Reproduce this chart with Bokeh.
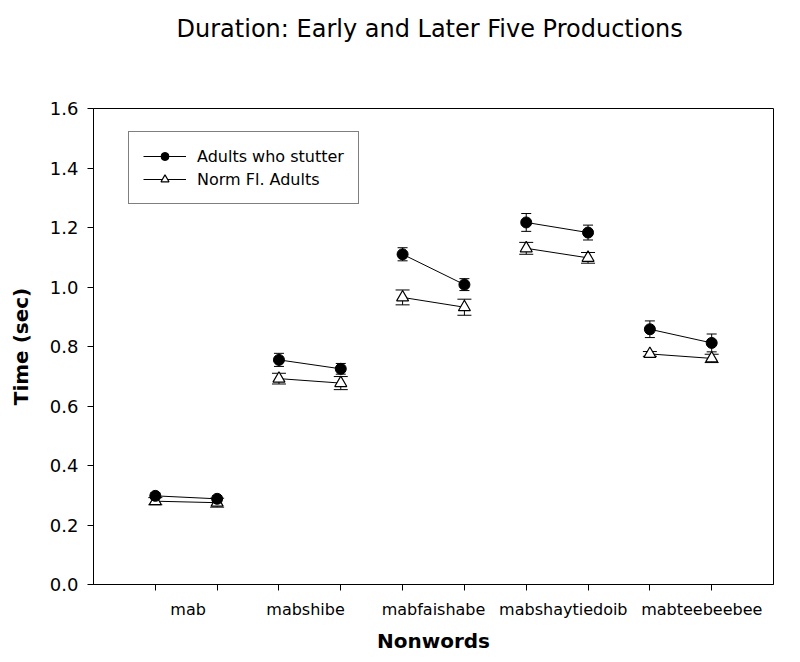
from bokeh.plotting import figure
from bokeh.models import (FixedTicker, Whisker, TeeHead, ColumnDataSource, Legend,
                          LegendItem, Range1d, LinearAxis)
from bokeh.embed import file_html
from bokeh.resources import INLINE

# ---- data ----
title_text = "Duration:  Early and Later Five Productions"
words = ["mab", "mabshibe", "mabfaishabe", "mabshaytiedoib", "mabteebeebee"]
stages = ["Early", "Later"]
aws = [0.298, 0.288, 0.755, 0.725, 1.110, 1.008, 1.217, 1.183, 0.858, 0.812]
aws_err = [0.010, 0.010, 0.022, 0.018, 0.022, 0.020, 0.030, 0.025, 0.028, 0.030]
nfa = [0.280, 0.275, 0.692, 0.677, 0.965, 0.932, 1.130, 1.098, 0.775, 0.760]
nfa_err = [0.012, 0.015, 0.018, 0.022, 0.025, 0.027, 0.020, 0.018, 0.008, 0.014]
y_ticks = [0.0, 0.2, 0.4, 0.6, 0.8, 1.0, 1.2, 1.4, 1.6]

# ---- layout constants ----
FONT = "DejaVu Sans"
W, H = 800, 662
BL, BR, BT, BB = 93, 27, 108, 78
FRAME_H = H - BT - BB
LABEL_NUDGE = [0.03, -0.07, 0.0, 0.1, 0.34]   # category label placement tweak

n = len(aws)
xpos = [i + 1 for i in range(n)]
word_pos = [2 * i + 1.5 + LABEL_NUDGE[i] for i in range(len(words))]

p = figure(width=W, height=H, output_backend="svg", toolbar_location=None,
           x_range=Range1d(0, n + 1), y_range=Range1d(0, 1.6),
           min_border_left=BL, min_border_right=BR, min_border_top=BT,
           min_border_bottom=BB)
p.background_fill_color = "white"
p.border_fill_color = "white"
p.outline_line_color = "black"
p.outline_line_width = 1
p.grid.visible = False

xa = p.below[0]
ya = p.left[0]

# top axis, used only to carry the chart title well above the frame
top_ax = LinearAxis(ticker=FixedTicker(ticks=[0.5]), major_label_overrides={0.5: ""},
                    major_label_text_font_size="1px", major_label_standoff=0,
                    major_tick_out=0, major_tick_in=0, minor_tick_out=0,
                    minor_tick_in=0, axis_line_color=None,
                    major_tick_line_color=None, minor_tick_line_color=None,
                    axis_label=title_text, axis_label_text_font=FONT,
                    axis_label_text_font_size="24px",
                    axis_label_text_font_style="normal",
                    axis_label_text_color="black", axis_label_standoff=66)
p.add_layout(top_ax, "above")

# y axis
ya.ticker = FixedTicker(ticks=y_ticks)
ya.major_label_overrides = {t: f"{t:.1f}" for t in y_ticks}
ya.major_tick_out = 6
ya.major_tick_in = 0
ya.minor_tick_out = 0
ya.minor_tick_in = 0
ya.major_label_text_font = FONT
ya.major_label_text_font_size = "18px"
ya.major_label_text_color = "black"
ya.major_label_standoff = 9
ya.axis_label = "Time (sec)"
ya.axis_label_text_font = FONT
ya.axis_label_text_font_size = "20px"
ya.axis_label_text_font_style = "bold"
ya.axis_label_text_color = "black"
ya.axis_label_standoff = 14
ya.axis_line_color = "black"
ya.major_tick_line_color = "black"

# x axis
xa.ticker = FixedTicker(ticks=word_pos, minor_ticks=xpos)
xa.major_label_overrides = {w: words[i] for i, w in enumerate(word_pos)}
xa.major_tick_out = 0
xa.major_tick_in = 0
xa.minor_tick_out = 6
xa.minor_tick_in = 0
xa.minor_tick_line_color = "black"
xa.major_label_text_font = FONT
xa.major_label_text_font_size = "16px"
xa.major_label_text_color = "black"
xa.major_label_standoff = 9
xa.axis_label = "Nonwords"
xa.axis_label_text_font = FONT
xa.axis_label_text_font_size = "20px"
xa.axis_label_text_font_style = "bold"
xa.axis_label_text_color = "black"
xa.axis_label_standoff = 7
xa.axis_line_color = "black"

# connecting lines (pairs)
def pairs(vals):
    xs = [[xpos[2 * i], xpos[2 * i + 1]] for i in range(len(words))]
    ys = [[vals[2 * i], vals[2 * i + 1]] for i in range(len(words))]
    return xs, ys

xs_n, ys_n = pairs(nfa)
xs_a, ys_a = pairs(aws)
ln_n = p.multi_line(xs_n, ys_n, line_color="black", line_width=1)
ln_a = p.multi_line(xs_a, ys_a, line_color="black", line_width=1)

# error bars
src_n = ColumnDataSource(dict(x=xpos, y=nfa,
                              lo=[v - e for v, e in zip(nfa, nfa_err)],
                              hi=[v + e for v, e in zip(nfa, nfa_err)]))
src_a = ColumnDataSource(dict(x=xpos, y=aws,
                              lo=[v - e for v, e in zip(aws, aws_err)],
                              hi=[v + e for v, e in zip(aws, aws_err)]))
for src, w in ((src_n, 14), (src_a, 10)):
    wh = Whisker(source=src, base="x", lower="lo", upper="hi",
                 line_color="black", line_width=1,
                 upper_head=TeeHead(size=w, line_color="black", line_width=1),
                 lower_head=TeeHead(size=w, line_color="black", line_width=1))
    p.add_layout(wh)

sc_n = p.scatter("x", "y", source=src_n, marker="triangle", size=12,
                 fill_color="white", line_color="black", line_width=1.2)
sc_a = p.scatter("x", "y", source=src_a, marker="circle", size=11,
                 fill_color="black", line_color="black")

LEG_H = 72
legend = Legend(items=[
    LegendItem(label="Adults who stutter", renderers=[ln_a, sc_a]),
    LegendItem(label="Norm Fl. Adults", renderers=[ln_n, sc_n]),
], location=(35, FRAME_H - 24 - LEG_H))
legend.label_text_font = FONT
legend.label_text_font_size = "16px"
legend.label_text_color = "black"
legend.border_line_color = "black"
legend.border_line_width = 1
legend.background_fill_alpha = 1
legend.glyph_width = 43
legend.glyph_height = 20
legend.label_standoff = 11
legend.label_height = 20
legend.padding = 14
legend.spacing = 3
legend.margin = 0
p.add_layout(legend)

open("out.html", "w").write(file_html(p, INLINE))
